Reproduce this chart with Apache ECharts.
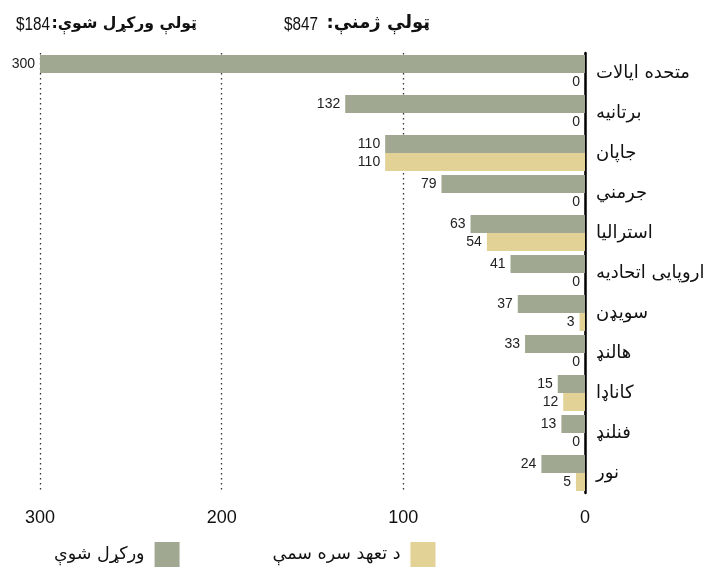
<!DOCTYPE html>
<html>
<head>
<meta charset="utf-8">
<script src="https://cdn.jsdelivr.net/npm/echarts@6/dist/echarts.min.js"></script>
<style>html,body{margin:0;padding:0;background:#fff}#c{width:710px;height:567px}</style>
</head>
<body>
<div id="c"></div>
<script>
var categories = ['متحده ایالات','برتانیه','جاپان','جرمني','استرالیا','اروپایی اتحادیه','سویډن','هالنډ','کاناډا','فنلنډ','نور'];
var pledged = [300,132,110,79,63,41,37,33,15,13,24];
var disbursed = [0,0,110,0,54,0,3,0,12,0,5];
var seriesNames = ['ورکړل شوې','د تعهد سره سمې'];
var xTicks = {min:0, max:300, interval:100};
var titleGiven = 'ټولې ورکړل شوې:';
var titlePledged = 'ټولې ژمنې:';

var sum = function(a){return a.reduce(function(s,v){return s+v;},0);};
var AR = 'DejaVu Sans';
var NUM = '"Liberation Sans", Arial, sans-serif';
var GREY = '#a1a892', YEL = '#e3d296';

var chart = echarts.init(document.getElementById('c'), null, {renderer:'canvas'});
chart.setOption({
  animation:false,
  grid:{left:40,right:125,top:53,bottom:74,containLabel:false,outerBoundsMode:'none'},
  xAxis:{type:'value',inverse:true,min:xTicks.min,max:xTicks.max,interval:xTicks.interval,
    axisLine:{show:false},axisTick:{show:false},
    splitLine:{show:true,lineStyle:{color:'#333',type:[1.5,3.5],width:1.3}},
    axisLabel:{fontFamily:'"Liberation Sans", Arial',fontSize:18,color:'#111',margin:16}},
  yAxis:{type:'category',inverse:true,position:'right',data:categories,
    axisLine:{show:true,lineStyle:{color:'#000',width:2.5}},axisTick:{show:false},
    axisLabel:{fontFamily:AR,fontSize:18,color:'#111',margin:11}},
  legend:{left:49,bottom:-5,itemWidth:25,itemHeight:25,itemGap:93,align:'right',icon:'rect',
    textStyle:{fontFamily:AR,fontSize:17.5,color:'#111',padding:[0,5,0,0]},data:seriesNames},
  series:[
    {name:seriesNames[0],type:'bar',data:pledged,barWidth:18,barGap:'0%',itemStyle:{color:GREY},
      label:{show:true,position:'left',distance:5,fontFamily:NUM,fontSize:14,color:'#222'}},
    {name:seriesNames[1],type:'bar',data:disbursed,barWidth:18,barGap:'0%',itemStyle:{color:YEL},
      label:{show:true,position:'left',distance:5,fontFamily:NUM,fontSize:14,color:'#222'}}
  ],
  graphic:[
    {type:'text',x:50,y:16,scaleX:0.85,style:{text:'$'+sum(disbursed),font:'18px "Liberation Sans", Arial',fill:'#111',align:'right'}},
    {type:'text',x:197,y:15.5,style:{text:titleGiven+'\u200F',font:'bold 15.7px "DejaVu Sans"',fill:'#111',align:'right'}},
    {type:'text',x:318,y:16,scaleX:0.85,style:{text:'$'+sum(pledged),font:'18px "Liberation Sans", Arial',fill:'#111',align:'right'}},
    {type:'text',x:430,y:14.5,style:{text:titlePledged+'\u200F',font:'bold 18px "DejaVu Sans"',fill:'#111',align:'right'}}
  ]
});
</script>
</body>
</html>
